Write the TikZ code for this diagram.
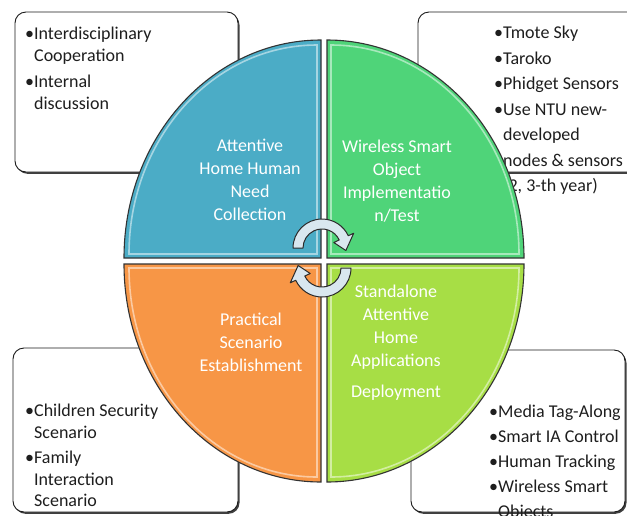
\documentclass[tikz,border=0pt]{standalone}
\usepackage{fontspec}
\setmainfont{Carlito}
\usepackage{xcolor}
\usetikzlibrary{shadows}
\definecolor{quadBlue}{HTML}{4BACC6}
\definecolor{quadGreen}{HTML}{4FD479}
\definecolor{quadOrange}{HTML}{F79646}
\definecolor{quadLime}{HTML}{A7DE45}
\definecolor{quadLine}{HTML}{333333}
\definecolor{noteLine}{HTML}{1A1A1A}
\definecolor{noteText}{HTML}{1E1E1E}
\definecolor{arrowFill}{HTML}{D9E7EF}
\definecolor{arrowLine}{HTML}{2A2A2A}
\newcommand\ind{\phantom{•}}

\begin{document}
\begin{tikzpicture}[x=1pt, y=-1pt,
  notebox/.style={draw=noteLine, line width=0.9pt, fill=white, rounded corners=11pt,
    drop shadow={shadow xshift=1.5pt, shadow yshift=-1.8pt, opacity=0.75, fill=black}},
  notetext/.style={anchor=north west, inner sep=0pt, align=left, text=noteText,
    font=\fontsize{18}{22}\selectfont},
  quadtext/.style={inner sep=0pt, align=center, text=white,
    font=\fontsize{18}{23}\selectfont},
  quadfill/.style={fill=#1, draw=quadLine, line width=1.1pt},
  quadshine/.style={draw=white, line width=1.6pt, opacity=0.5},
  cyclearrow/.style={draw=arrowLine, line width=1pt, fill=arrowFill, line join=round}]

% --- PARAMETERS ---
\def\rx{197}                % quadrant x radius
\def\ry{218}                % quadrant y radius
\useasboundingbox (0,0) rectangle (627,515);

% --- NOTE BOXES (behind the circle) ---
\path[notebox] (15,12) rectangle (238,172);
\path[notebox] (418,12) rectangle (650,172);
\path[notebox] (13,348) rectangle (238,512);
\path[notebox] (411,350) rectangle (625,512);

\node[notetext] (coopText) at (25,27)
  {•Interdisciplinary\\\ind Cooperation\\[4pt]•Internal\\\ind discussion};
\node[notetext, font=\fontsize{18}{25.5}\selectfont] (moteText) at (494,26)
  {•Tmote Sky\\•Taroko\\•Phidget Sensors\\•Use NTU new-\\\ind developed\\\ind nodes \& sensors\\\ind (2, 3-th year)};
\node[notetext, font=\fontsize{18}{21.5}\selectfont] (familyText) at (25,404)
  {•Children Security\\\ind Scenario\\[4pt]•Family\\\ind Interaction\\\ind Scenario};
\node[notetext, font=\fontsize{18}{25}\selectfont] (appText) at (489,405)
  {•Media Tag-Along\\•Smart IA Control\\•Human Tracking\\•Wireless Smart\\\ind Objects};

% --- QUADRANTS ---
\pgfmathsetmacro\irx{\rx-9}
\pgfmathsetmacro\iry{\ry-9}
\foreach \cx/\cy/\sa/\ea/\col in {321/258/180/270/quadBlue, 327/258/0/-90/quadGreen,
                                  321/264/180/90/quadOrange, 327/264/0/90/quadLime} {
  \draw[quadfill=\col] (\cx,\cy) -- ++({\rx*cos(\sa)},0)
    arc[start angle=\sa, end angle=\ea, x radius=\rx, y radius=\ry] -- cycle;
  % inner shine
  \pgfmathsetmacro\ix{\cx+4*cos(\sa)}
  \pgfmathsetmacro\iy{\cy+4*sin(\ea)}
  \draw[quadshine] (\ix,\iy) -- ++({\irx*cos(\sa)},0)
    arc[start angle=\sa, end angle=\ea, x radius=\irx, y radius=\iry] -- cycle;
}

% --- QUADRANT LABELS ---
\node[quadtext] (needText) at (250,180) {Attentive\\Home Human\\Need\\Collection};
\node[quadtext] (objectText) at (397,181) {Wireless Smart\\Object\\Implementatio\\n/Test};
\node[quadtext] (scenarioText) at (251,342) {Practical\\Scenario\\Establishment};
\node[quadtext] (deployText) at (396,343) {Standalone\\Attentive\\Home\\Applications\\[8pt]Deployment};

% --- CYCLE ARROWS ---
\draw[cyclearrow, shift={(322,248)}] (180:29) arc[start angle=180, end angle=335, radius=29]
  -- (335:35) -- (6:24) -- (335:13) -- (335:19) arc[start angle=335, end angle=180, radius=19] -- cycle;
\draw[cyclearrow, shift={(322,268)}] (0:29) arc[start angle=0, end angle=155, radius=29]
  -- (155:35) -- (186:24) -- (155:13) -- (155:19) arc[start angle=155, end angle=0, radius=19] -- cycle;

\end{tikzpicture}
\end{document}
